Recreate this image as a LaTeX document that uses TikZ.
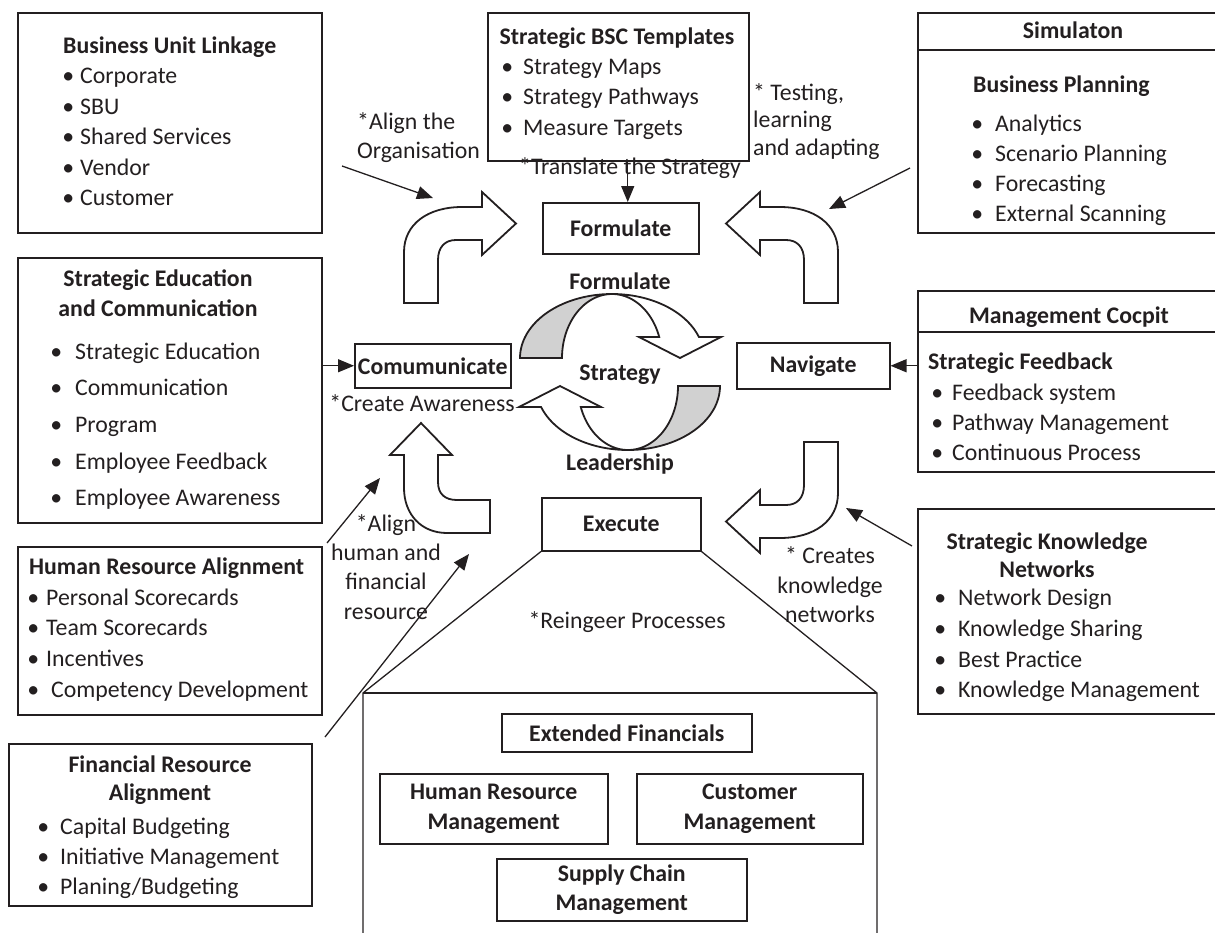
\documentclass[tikz,border=0pt]{standalone}
\usepackage{fontspec}
\setmainfont{Carlito}
\usetikzlibrary{arrows.meta,calc}
\definecolor{ink}{RGB}{35,31,32}
\definecolor{shade}{RGB}{209,209,209}
\newcommand\bx[6]{\node[box, minimum width=#4pt, minimum height=#5pt] (#1) at (#2,#3) {#6};}
\newcommand\bul[5]{\node[tl] (#1) at (#3,#4) {\llap{\makebox[0pt][c]{\textbullet}\hspace{#2pt}}#5};}
\newcommand\Apath{(404,303) -- (404,252) .. controls (404,224) and (428,207) .. (462,207) -- (482,207) -- (482,192) -- (516,223.5) -- (482,255) -- (482,240) -- (456,240) .. controls (445,240) and (438,247) .. (438,260) -- (438,303) -- cycle}
\newcommand\cyc{%
  \draw[shp, fill=shade] plot[domain=180:270, samples=40] ({612+92*cos(\x)},{358+64*sin(\x)}) -- plot[domain=270:180, samples=40] ({612+50*cos(\x)},{358+64*sin(\x)}) -- cycle;
  \draw[shp] plot[domain=270:340.85, samples=40] ({612+92*cos(\x)},{358+64*sin(\x)}) -- (721,337) -- (680,358) -- (639,337) -- plot[domain=340.85:270, samples=40] ({612+50*cos(\x)},{358+64*sin(\x)}) -- cycle;}
\begin{document}
\begin{tikzpicture}[x=1pt,y=-1pt, color=ink,
 box/.style={draw, line width=1.5pt, inner sep=0pt, anchor=north west, align=center, font=\fontsize{23.8}{29.5}\selectfont\bfseries},
 tx/.style={inner sep=0pt, text height=18pt, text depth=4pt, font=\fontsize{23.8}{28}\selectfont},
 tl/.style={tx, anchor=west},
 tb/.style={tx, font=\fontsize{23.8}{28}\selectfont\bfseries},
 tbl/.style={tb, anchor=west},
 arr/.style={-{Triangle[length=16pt,width=13pt]}, line width=1.3pt},
 shp/.style={draw, line width=1.8pt, fill=white, line join=miter},
]
\useasboundingbox (0,0) rectangle (1215,932);
\clip (0,0) rectangle (1215,932);

% ---- left column boxes
\bx{bul}{17}{12}{304}{220}{}
\node[tbl] (bult) at (63,46) {Business Unit Linkage};
\bul{bul1}{12}{80}{76}{Corporate}
\bul{bul2}{12}{80}{107}{SBU}
\bul{bul3}{12}{80}{137}{Shared Services}
\bul{bul4}{12}{80}{168}{Vendor}
\bul{bul5}{12}{80}{198}{Customer}

\bx{sec}{17}{257}{304}{265}{}
\node[tb] (sect1) at (158,279) {Strategic Education};
\node[tb] (sect2) at (158,309) {and Communication};
\bul{sec1}{19}{75}{352}{Strategic Education}
\bul{sec2}{19}{75}{388}{Communication}
\bul{sec3}{19}{75}{425}{Program}
\bul{sec4}{19}{75}{462}{Employee Feedback}
\bul{sec5}{19}{75}{498}{Employee Awareness}

\bx{hra}{17}{546}{304}{168}{}
\node[tbl] (hrat) at (29,567) {Human Resource Alignment};
\bul{hra1}{13}{46}{598}{Personal Scorecards}
\bul{hra2}{13}{46}{628}{Team Scorecards}
\bul{hra3}{13}{46}{659}{Incentives}
\bul{hra4}{18}{51}{690}{Competency Development}

\bx{fra}{8}{743}{303}{162}{}
\node[tb] (frat1) at (160,765) {Financial Resource};
\node[tb] (frat2) at (160,793) {Alignment};
\bul{fra1}{17}{60}{827}{Capital Budgeting}
\bul{fra2}{17}{60}{857}{Initiative Management}
\bul{fra3}{17}{60}{887}{Planing/Budgeting}

% ---- top middle
\bx{sbt}{487}{12}{261}{148}{}
\node[tb] (sbtt) at (617,37) {Strategic BSC Templates};
\bul{sbt1}{16}{523}{67}{Strategy Maps}
\bul{sbt2}{16}{523}{97}{Strategy Pathways}
\bul{sbt3}{16}{523}{128}{Measure Targets}

% ---- right column
\bx{sim}{917}{12}{320}{220}{}
\draw[line width=1.5pt] ([yshift=-38pt]sim.north west) -- ([yshift=-38pt]sim.north east);
\node[tb] (simt) at (1073,31) {Simulaton};
\node[tbl] (simt2) at (973,85) {Business Planning};
\bul{sim1}{18}{995}{124}{Analytics}
\bul{sim2}{18}{995}{154}{Scenario Planning}
\bul{sim3}{18}{995}{184}{Forecasting}
\bul{sim4}{18}{995}{214}{External Scanning}

\bx{mc}{917}{290}{320}{181}{}
\draw[line width=1.5pt] ([yshift=-42pt]mc.north west) -- ([yshift=-42pt]mc.north east);
\node[tb] (mct) at (1069,316) {Management Cocpit};
\node[tbl] (mct2) at (928,362) {Strategic Feedback};
\bul{mc1}{15}{952}{393}{Feedback system}
\bul{mc2}{15}{952}{423}{Pathway Management}
\bul{mc3}{15}{952}{453}{Continuous Process}

\bx{skn}{917}{508}{320}{205}{}
\node[tb] (sknt1) at (1047,542) {Strategic Knowledge};
\node[tb] (sknt2) at (1047,570) {Networks};
\bul{skn1}{18}{958}{598}{Network Design}
\bul{skn2}{18}{958}{629}{Knowledge Sharing}
\bul{skn3}{18}{958}{660}{Best Practice}
\bul{skn4}{18}{958}{690}{Knowledge Management}

% ---- central boxes
\bx{form}{542}{202}{156}{51}{Formulate}
\bx{com}{354}{343}{156}{44}{Comumunicate}
\bx{nav}{736}{342}{153}{46}{Navigate}
\bx{exe}{541}{497}{159}{53}{Execute}

% ---- trapezoid and bottom boxes
\coordinate (tl) at (363,693);
\coordinate (tr) at (877,693);
\draw[line width=1.3pt] (exe.south west) -- (tl) -- (363,945);
\draw[line width=1.3pt] (exe.south east) -- (tr) -- (877,945);
\draw[line width=1.5pt] (tl) -- (tr);
\bx{ef}{501}{713}{250}{38}{Extended Financials}
\bx{hrm}{379}{773}{228}{70}{Human Resource\\Management}
\bx{cm}{636}{773}{226}{70}{Customer\\Management}
\bx{scm}{496}{858}{250}{62}{Supply Chain\\Management}
\node[tx] (reing) at (627,621) {*Reingeer Processes};

% ---- U-shaped arrows
\draw[shp] \Apath;
\begin{scope}[shift={(1242,0)}, xscale=-1]
\draw[shp] \Apath;
\end{scope}
\begin{scope}[rotate around={180:(621,372.5)}]
\draw[shp] \Apath;
\end{scope}
\draw[shp] (421,423) -- (452,455) -- (438,455) -- (438,482) .. controls (438,494) and (445,500) .. (457,500) -- (490,500) -- (490,533) -- (447,533) .. controls (421,533) and (404,514) .. (404,488) -- (404,455) -- (390,455) -- cycle;

% ---- central cycle
\cyc
\begin{scope}[rotate around={180:(620,372)}]
\cyc
\end{scope}
\node[tb] (cf) at (620,282) {Formulate};
\node[tb] (cs) at (620,373) {Strategy};
\node[tb] (cl) at (620,463) {Leadership};

% ---- labels
\node[tl] (al1) at (357,122) {*Align the};
\node[tl] (al2) at (357,151) {Organisation};
\node[tx] (trans) at (630,167) {*Translate the Strategy};
\node[tl] (te1) at (753,93) {* Testing,};
\node[tl] (te2) at (753,120) {learning};
\node[tl] (te3) at (753,148) {and adapting};
\node[tx] (aware) at (422,404) {*Create Awareness};
\node[tx] (ah1) at (386,524) {*Align};
\node[tx] (ah2) at (386,553) {human and};
\node[tx] (ah3) at (386,582) {financial};
\node[tx] (ah4) at (386,612) {resource};
\node[tx] (cr1) at (830,556) {* Creates};
\node[tx] (cr2) at (830,586) {knowledge};
\node[tx] (cr3) at (830,615) {networks};

% ---- connectors
\coordinate (ft) at ([xshift=7pt]form.north);
\draw[arr] (sbt.south -| ft) -- (ft);
\draw[arr] (sec.east |- com.west) -- (com.west);
\draw[arr] (mc.west |- nav.east) -- (nav.east);
\coordinate (a1s) at (342,166); \coordinate (a1e) at (433,198);
\draw[arr] (a1s) -- (a1e);
\coordinate (a2s) at (910,168); \coordinate (a2e) at (829,209);
\draw[arr] (a2s) -- (a2e);
\coordinate (a3s) at (912,546); \coordinate (a3e) at (846,508);
\draw[arr] (a3s) -- (a3e);
\coordinate (a4s) at (327,543); \coordinate (a4e) at (380,478);
\draw[arr] (a4s) -- (a4e);
\coordinate (a5s) at (325,737); \coordinate (a5e) at (469,554);
\draw[arr] (a5s) -- (a5e);
\end{tikzpicture}
\end{document}
